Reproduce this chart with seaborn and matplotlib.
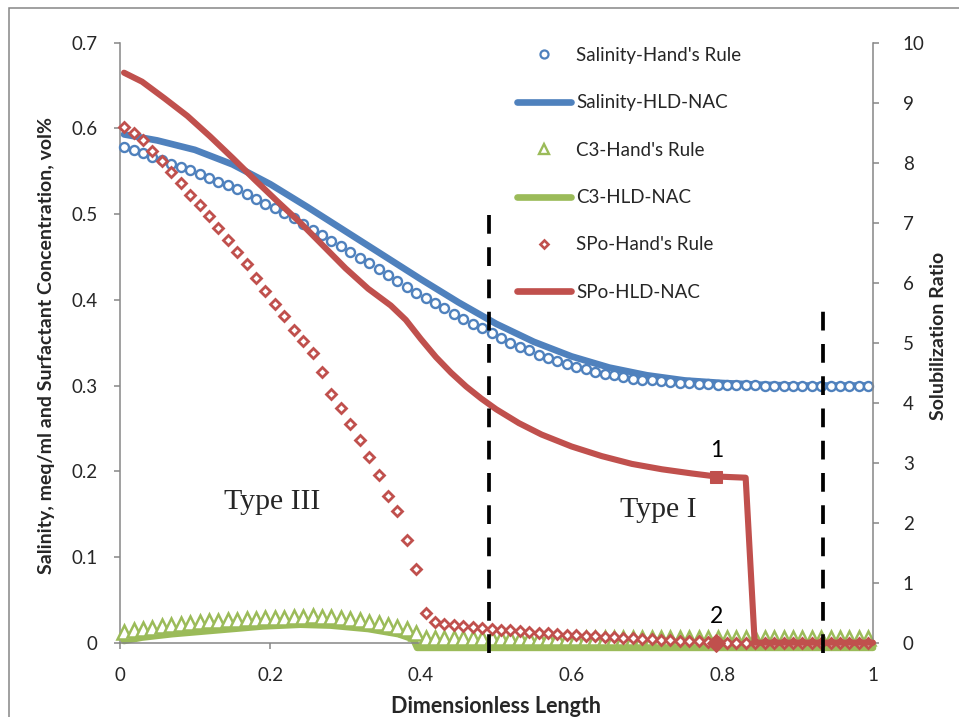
import numpy as np
import matplotlib
matplotlib.use("Agg")
import matplotlib.pyplot as plt
from matplotlib.lines import Line2D
from matplotlib.patches import Rectangle
from matplotlib.ticker import FuncFormatter, MultipleLocator
import seaborn as sns

# ---------------------------------------------------------------- data
# Hand's-rule results are reported at the centres of 80 grid blocks
grid_x = np.arange(80) * 0.0125 + 0.00625

salinity_hand = [
    0.578, 0.575, 0.571, 0.567, 0.563, 0.559, 0.555, 0.551, 0.547, 0.542,
    0.538, 0.534, 0.529, 0.523, 0.518, 0.512, 0.507, 0.501, 0.495, 0.489,
    0.482, 0.476, 0.469, 0.463, 0.456, 0.449, 0.443, 0.436, 0.429, 0.422,
    0.415, 0.408, 0.402, 0.396, 0.390, 0.384, 0.378, 0.372, 0.367, 0.361,
    0.356, 0.350, 0.345, 0.341, 0.336, 0.332, 0.329, 0.325, 0.322, 0.319,
    0.316, 0.314, 0.312, 0.310, 0.308, 0.307, 0.306, 0.305, 0.304, 0.303,
    0.303, 0.302, 0.302, 0.301, 0.301, 0.301, 0.301, 0.301, 0.300, 0.300,
    0.300, 0.300, 0.300, 0.300, 0.300, 0.300, 0.300, 0.300, 0.300, 0.300,
]

c3_hand = [
    0.0125, 0.0145, 0.0164, 0.0175, 0.0190, 0.0203, 0.0220, 0.0234, 0.0240, 0.0248,
    0.0250, 0.0260, 0.0268, 0.0276, 0.0280, 0.0284, 0.0288, 0.0290, 0.0295, 0.0300,
    0.0306, 0.0304, 0.0300, 0.0290, 0.0280, 0.0260, 0.0240, 0.0230, 0.0205, 0.0180,
    0.0155, 0.0110, 0.0050, 0.0050, 0.0050, 0.0050, 0.0050, 0.0050, 0.0050, 0.0050,
    0.0050, 0.0050, 0.0050, 0.0050, 0.0050, 0.0050, 0.0050, 0.0050, 0.0050, 0.0050,
    0.0050, 0.0050, 0.0050, 0.0050, 0.0050, 0.0050, 0.0050, 0.0050, 0.0050, 0.0050,
    0.0050, 0.0050, 0.0050, 0.0050, 0.0050, 0.0050, 0.0050, 0.0050, 0.0050, 0.0050,
    0.0050, 0.0050, 0.0050, 0.0050, 0.0050, 0.0050, 0.0050, 0.0050, 0.0050, 0.0050,
]

spo_hand = [
    8.60, 8.50, 8.38, 8.20, 8.03, 7.85, 7.66, 7.47, 7.29, 7.11,
    6.92, 6.72, 6.52, 6.31, 6.08, 5.86, 5.64, 5.44, 5.22, 5.03,
    4.83, 4.51, 4.15, 3.92, 3.65, 3.38, 3.10, 2.79, 2.45, 2.20,
    1.71, 1.23, 0.49, 0.35, 0.32, 0.30, 0.28, 0.27, 0.25, 0.235,
    0.22, 0.205, 0.19, 0.18, 0.165, 0.155, 0.145, 0.135, 0.125, 0.115,
    0.105, 0.095, 0.087, 0.079, 0.071, 0.064, 0.057, 0.050, 0.043, 0.036,
    0.029, 0.022, 0.015, 0.008, 0.0, 0.0, 0.0, 0.0, 0.0, 0.0,
    0.0, 0.0, 0.0, 0.0, 0.0, 0.0, 0.0, 0.0, 0.0, 0.0,
]

# HLD-NAC model curves
sal_x = [0.006, 0.05, 0.10, 0.15, 0.20, 0.25, 0.30, 0.35, 0.40, 0.45, 0.50,
         0.55, 0.60, 0.65, 0.70, 0.75, 0.80, 0.85, 0.90, 0.95, 1.00]
salinity_hld = [0.593, 0.586, 0.575, 0.558, 0.535, 0.508, 0.480, 0.452, 0.424,
                0.397, 0.372, 0.351, 0.334, 0.321, 0.312, 0.306, 0.303, 0.301,
                0.300, 0.300, 0.300]

c3_x = [0.006, 0.03, 0.07, 0.11, 0.15, 0.19, 0.24, 0.28, 0.33, 0.37, 0.39,
        0.395, 1.00]
c3_hld = [0.002, 0.006, 0.010, 0.013, 0.016, 0.019, 0.021, 0.020, 0.016,
          0.010, 0.004, -0.006, -0.006]

spo_x = [0.006, 0.03, 0.06, 0.09, 0.12, 0.15, 0.18, 0.21, 0.24, 0.27, 0.30,
         0.33, 0.36, 0.38, 0.40, 0.42, 0.44, 0.46, 0.48, 0.50, 0.53, 0.56,
         0.60, 0.64, 0.68, 0.72, 0.76, 0.792, 0.831, 0.843, 1.00]
spo_hld = [9.50, 9.35, 9.07, 8.78, 8.44, 8.08, 7.71, 7.35, 7.00, 6.62, 6.24,
           5.90, 5.62, 5.38, 5.06, 4.76, 4.50, 4.27, 4.07, 3.89, 3.66, 3.47,
           3.27, 3.11, 2.98, 2.89, 2.82, 2.77, 2.75, 0.0, 0.0]

# highlighted locations 1 and 2
mark_x = 0.792
mark1_spo = 2.77
mark2_spo = 0.0

# boundaries between Type III and Type I regions
boundary_x = [0.49, 0.933]
boundary_top = [0.5, 0.4]

BLUE = "#4F81BD"
RED = "#C0504D"
GREEN = "#9BBB59"
GRAY = "#868686"

# ---------------------------------------------------------------- style
sns.set_theme(style="white")
plt.rcParams["font.family"] = ["Lato", "DejaVu Sans"]

fig = plt.figure(figsize=(9.59, 7.17), dpi=100)
ax = fig.add_axes([119.5 / 959, 1 - 642.7 / 717, 753.5 / 959, 600 / 717])
ax2 = ax.twinx()

# ---------------------------------------------------------------- left axis
sns.lineplot(x=sal_x, y=salinity_hld, ax=ax, estimator=None, sort=False,
             color=BLUE, linewidth=4.8, legend=False, zorder=2)
sns.lineplot(x=grid_x, y=salinity_hand, ax=ax, estimator=None, sort=False,
             color=BLUE, linestyle="", marker="o", markersize=6.5,
             markerfacecolor="white", markeredgecolor=BLUE,
             markeredgewidth=1.7, legend=False, zorder=3, clip_on=False)
sns.lineplot(x=c3_x, y=c3_hld, ax=ax, estimator=None, sort=False,
             color=GREEN, linewidth=4.8, legend=False, zorder=2, clip_on=False)
sns.lineplot(x=grid_x, y=c3_hand, ax=ax, estimator=None, sort=False,
             color=GREEN, linestyle="", marker="^", markersize=10.0,
             markerfacecolor="white", markeredgecolor=GREEN,
             markeredgewidth=1.8, legend=False, zorder=3, clip_on=False)

# ---------------------------------------------------------------- right axis
sns.lineplot(x=grid_x, y=spo_hand, ax=ax2, estimator=None, sort=False,
             color=RED, linestyle="", marker="D", markersize=4.6,
             markerfacecolor="white", markeredgecolor=RED,
             markeredgewidth=2.0, legend=False, zorder=2, clip_on=False)
sns.lineplot(x=spo_x, y=spo_hld, ax=ax2, estimator=None, sort=False,
             color=RED, linewidth=4.4, legend=False, zorder=3, clip_on=False)
sns.lineplot(x=[mark_x], y=[mark1_spo], ax=ax2, estimator=None,
             color=RED, linestyle="", marker="s", markersize=8.8,
             markeredgecolor=RED, legend=False, zorder=4, clip_on=False)
sns.lineplot(x=[mark_x], y=[mark2_spo], ax=ax2, estimator=None,
             color=RED, linestyle="", marker="D", markersize=9.5,
             markeredgecolor=RED, legend=False, zorder=4, clip_on=False)
ax2.annotate("1", xy=(mark_x, mark1_spo), xytext=(0, 19),
             textcoords="offset points", ha="center", va="center",
             fontsize=16.5, color="black")
ax2.annotate("2", xy=(mark_x, mark2_spo), xytext=(0, 19),
             textcoords="offset points", ha="center", va="center",
             fontsize=16.5, color="black")

# dashed region boundaries (in left-axis units)
for bx, top in zip(boundary_x, boundary_top):
    ax2.plot([bx, bx], [-0.012, top], transform=ax.transData, color="black",
             linewidth=2.7, dashes=(5.0, 3.6), zorder=6, clip_on=False)

ax.text(0.2025, 0.164, "Type III", ha="center", va="center", fontsize=21.5,
        family=["Liberation Serif", "DejaVu Serif"])
ax.text(0.715, 0.155, "Type I", ha="center", va="center", fontsize=21.5,
        family=["Liberation Serif", "DejaVu Serif"])

# ---------------------------------------------------------------- axes
ax.set_xlim(0, 1)
ax.set_ylim(0, 0.7)
ax2.set_ylim(0, 10)
ax.xaxis.set_major_locator(MultipleLocator(0.2))
ax.yaxis.set_major_locator(MultipleLocator(0.1))
ax2.yaxis.set_major_locator(MultipleLocator(1))
fmt = FuncFormatter(lambda v, p: f"{v:g}")
ax.xaxis.set_major_formatter(fmt)
ax.yaxis.set_major_formatter(fmt)
ax2.yaxis.set_major_formatter(fmt)

for a in (ax, ax2):
    a.grid(False)
    a.spines["top"].set_visible(False)
    for s in a.spines.values():
        s.set_color(GRAY)
        s.set_linewidth(1.1)
ax.spines["right"].set_visible(False)
ax2.spines["left"].set_visible(False)
ax2.spines["bottom"].set_visible(False)

ax.tick_params(axis="y", direction="out", length=4.5, width=1.1, color=GRAY,
               labelsize=13.5, pad=11.5, left=True)
ax.tick_params(axis="x", direction="out", length=4.5, width=1.1, color=GRAY,
               labelsize=13.5, pad=13, bottom=True)
ax2.tick_params(axis="y", direction="out", length=4.5, width=1.1, color=GRAY,
                labelsize=13.5, pad=17, right=True)

ax.set_xlabel("Dimensionless Length", fontsize=15.5, fontweight="bold")
ax.xaxis.set_label_coords(0.5, -0.088)
ax.set_ylabel("Salinity, meq/ml and Surfactant Concentration, vol%",
              fontsize=14, fontweight="bold")
ax.yaxis.set_label_coords(-0.086, 0.496)
ax2.set_ylabel("Solubilization Ratio", fontsize=14, fontweight="bold")
ax2.yaxis.set_label_coords(1.076, 0.511)

# ---------------------------------------------------------------- legend
handles = [
    Line2D([], [], linestyle="", marker="o", markersize=5.8,
           markerfacecolor="white", markeredgecolor=BLUE, markeredgewidth=1.6),
    Line2D([], [], color=BLUE, linewidth=4.8),
    Line2D([], [], linestyle="", marker="^", markersize=7.2,
           markerfacecolor="white", markeredgecolor=GREEN, markeredgewidth=1.7),
    Line2D([], [], color=GREEN, linewidth=4.8),
    Line2D([], [], linestyle="", marker="D", markersize=4.4,
           markerfacecolor="white", markeredgecolor=RED, markeredgewidth=1.9),
    Line2D([], [], color=RED, linewidth=4.8),
]
labels = ["Salinity-Hand's Rule", "Salinity-HLD-NAC", "C3-Hand's Rule",
          "C3-HLD-NAC", "SPo-Hand's Rule", "SPo-HLD-NAC"]
leg = ax2.legend(handles, labels, loc="upper left",
                 bbox_to_anchor=(517 / 959, 1 - 47 / 717),
                 bbox_transform=fig.transFigure, frameon=False,
                 borderaxespad=0, borderpad=0, handlelength=2.88,
                 handletextpad=0.27, labelspacing=1.62, fontsize=13.5)

# chart-area border
fig.patches.append(Rectangle((9 / 959, -0.2), 2.0, 1.2 - 8 / 717,
                             transform=fig.transFigure, fill=False,
                             edgecolor=GRAY, linewidth=1.1))

fig.savefig("out.png", dpi=100)
